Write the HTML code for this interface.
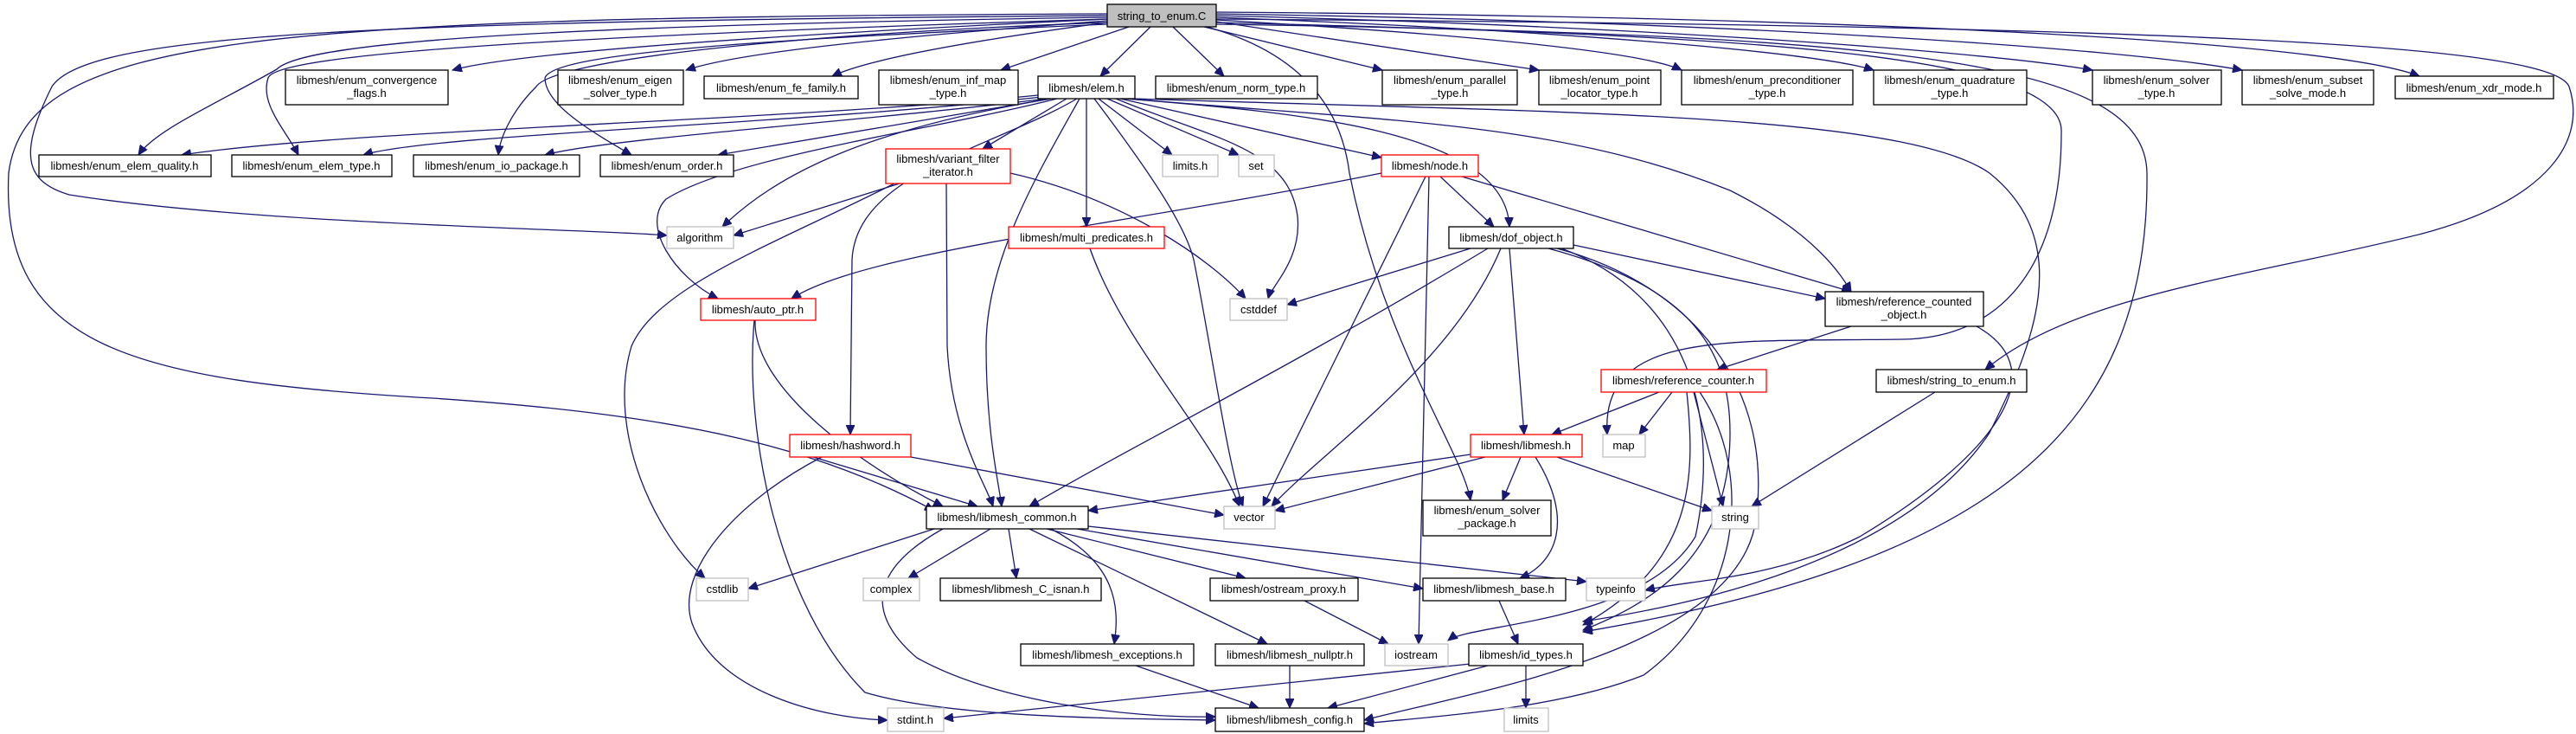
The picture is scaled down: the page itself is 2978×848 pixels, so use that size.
<!DOCTYPE html>
<html><head><meta charset="utf-8"><style>
html,body{margin:0;padding:0;background:#fff;}
svg{display:block;}
text{font-family:"Liberation Sans",Arial,sans-serif;font-size:13px;fill:#000;text-anchor:middle;}
.e{fill:none;stroke:#191970;stroke-width:1.3;marker-end:url(#a);}
.b{fill:#fff;stroke:#000;stroke-width:1.3;}
.g{fill:#fff;stroke:#bfbfbf;stroke-width:1.3;}
.r{fill:#fff;stroke:#ff0000;stroke-width:1.3;}
</style></head><body>
<svg width="2978" height="848" viewBox="0 0 2978 848" xmlns="http://www.w3.org/2000/svg">
<defs><marker id="a" markerUnits="userSpaceOnUse" markerWidth="12" markerHeight="10" refX="11" refY="5" orient="auto"><path d="M0,0 L11,5 L0,10 z" fill="#191970" stroke="#191970"/></marker></defs>
<g>
<!-- from string_to_enum.C -->
<path class="e" d="M1280,22 C900,40 600,60 523,81"/>
<path class="e" d="M1280,24 C1000,45 850,62 793,81"/>
<path class="e" d="M1280,26 C1100,50 1000,70 962,88"/>
<path class="e" d="M1305,31 L1157,81"/>
<path class="e" d="M1330,31 L1272,88"/>
<path class="e" d="M1356,31 L1415,88"/>
<path class="e" d="M1392,31 L1598,81"/>
<path class="e" d="M1406,25 L1779,81"/>
<path class="e" d="M1406,23 C1700,40 1900,60 1944,81"/>
<path class="e" d="M1406,20 C1800,35 2100,60 2166,81"/>
<path class="e" d="M1406,18 C1900,30 2300,60 2419,81"/>
<path class="e" d="M1406,16 C2000,25 2450,55 2592,81"/>
<path class="e" d="M1406,14 C2200,20 2700,50 2797,88"/>
<path class="e" d="M1280,20 C600,30 350,50 320,80 C250,120 180,150 160,179"/>
<path class="e" d="M1280,22 C700,40 320,60 310,90 C300,120 330,150 345,179"/>
<path class="e" d="M1280,26 C900,40 640,70 620,100 C590,130 578,160 576,179"/>
<path class="e" d="M1280,28 C900,45 640,60 630,90 C630,120 680,150 730,179"/>
<path class="e" d="M1280,18 C400,25 100,40 60,100 C20,180 30,210 80,225 C300,260 700,265 771,272"/>
<path class="e" d="M1280,16 C300,20 30,40 10,200 C0,400 150,440 500,460 C800,480 950,520 1080,590"/>
<path class="e" d="M1395,31 C1500,60 1550,120 1560,200 C1600,400 1690,520 1700,578"/>
<path class="e" d="M1406,26 C2000,40 2380,60 2383,150 C2384,300 2320,390 2200,392 C2000,395 1850,380 1858,502"/>
<path class="e" d="M1406,22 C2500,30 2950,50 2970,100 C2990,160 2950,230 2800,270 C2600,320 2400,340 2295,427"/>
<path class="e" d="M1406,28 C2200,40 2480,70 2482,200 C2485,500 2300,650 1830,730"/>
<!-- from elem.h -->
<path class="e" d="M1200,110 C900,140 400,150 210,179"/>
<path class="e" d="M1205,112 C900,145 500,155 420,179"/>
<path class="e" d="M1210,114 C1000,140 700,160 630,179"/>
<path class="e" d="M1215,114 L830,179"/>
<path class="e" d="M1233,114 L1136,172"/>
<path class="e" d="M1215,114 C1000,150 900,200 835,262"/>
<path class="e" d="M1222,114 C1080,150 850,180 770,230 C740,260 780,320 830,345"/>
<path class="e" d="M1245,114 C1150,170 990,200 985,300 L983,502"/>
<path class="e" d="M1248,114 C1200,200 1140,300 1140,400 C1140,500 1155,560 1158,585"/>
<path class="e" d="M1256,114 L1256,262"/>
<path class="e" d="M1290,114 C1400,160 1490,170 1500,250 C1505,300 1470,330 1466,345"/>
<path class="e" d="M1265,114 C1330,200 1370,260 1380,300 C1400,400 1420,540 1437,585"/>
<path class="e" d="M1270,114 L1355,179"/>
<path class="e" d="M1280,114 L1432,179"/>
<path class="e" d="M1295,114 L1597,182"/>
<path class="e" d="M1300,114 C1500,130 1740,150 1745,262"/>
<path class="e" d="M1305,114 C1600,140 1800,140 2000,220 C2100,270 2130,320 2140,337"/>
<path class="e" d="M1310,114 C1800,130 2200,130 2300,200 C2400,280 2350,400 2300,500 C2200,650 1950,700 1830,718"/>
<!-- variant_filter -->
<path class="e" d="M1040,212 L848,272"/>
<path class="e" d="M1094,212 L1095,400 C1100,500 1140,560 1148,585"/>
<path class="e" d="M1034,212 C900,280 760,330 730,400 C700,500 760,620 815,668"/>
<path class="e" d="M1168,200 C1300,230 1400,300 1440,345"/>
<!-- node.h -->
<path class="e" d="M1597,200 C1300,260 1000,290 915,345"/>
<path class="e" d="M1665,204 L1727,262"/>
<path class="e" d="M1690,204 L2140,337"/>
<path class="e" d="M1648,204 L1460,585"/>
<path class="e" d="M1652,204 L1640,744"/>
<!-- dof_object -->
<path class="e" d="M1700,287 L1488,352"/>
<path class="e" d="M1720,287 C1500,420 1300,520 1190,585"/>
<path class="e" d="M1735,287 C1680,420 1530,520 1470,585"/>
<path class="e" d="M1745,287 L1762,502"/>
<path class="e" d="M1819,283 L2110,345"/>
<path class="e" d="M1790,287 C1950,330 2000,400 2000,500 C2000,650 1900,700 1830,728"/>
<path class="e" d="M1800,287 C1960,330 2050,450 2030,600 C2010,750 1700,800 1577,832"/>
<path class="e" d="M1805,287 C1950,340 1990,480 1960,620 C1900,720 1700,720 1674,740"/>
<!-- multi_predicates -->
<path class="e" d="M1260,287 C1300,400 1400,500 1433,585"/>
<!-- auto_ptr -->
<path class="e" d="M873,370 C870,450 1000,540 1090,585"/>
<path class="e" d="M872,370 C860,500 900,700 1000,800 C1100,830 1300,830 1405,832"/>
<!-- hashword -->
<path class="e" d="M940,528 L1130,585"/>
<path class="e" d="M1053,528 L1415,595"/>
<path class="e" d="M950,528 C850,580 780,660 800,720 C830,800 950,830 1026,832"/>
<!-- libmesh_common -->
<path class="e" d="M1080,611 L865,680"/>
<path class="e" d="M1145,611 L1050,668"/>
<path class="e" d="M1166,611 L1175,668"/>
<path class="e" d="M1210,611 L1440,668"/>
<path class="e" d="M1245,611 L1645,680"/>
<path class="e" d="M1258,608 L1834,672"/>
<path class="e" d="M1215,611 C1290,650 1295,700 1288,744"/>
<path class="e" d="M1190,611 L1465,744"/>
<path class="e" d="M1090,611 C1020,650 990,700 1060,760 C1150,810 1300,830 1405,828"/>
<!-- misc -->
<path class="e" d="M1508,694 L1605,744"/>
<path class="e" d="M1733,694 L1755,744"/>
<path class="e" d="M1313,769 L1455,818"/>
<path class="e" d="M1491,769 L1491,818"/>
<path class="e" d="M1700,767 L1091,830"/>
<path class="e" d="M1720,769 L1535,818"/>
<path class="e" d="M1764,769 L1764,818"/>
<path class="e" d="M1700,525 L1258,590"/>
<path class="e" d="M1717,528 L1474,590"/>
<path class="e" d="M1758,528 L1737,578"/>
<path class="e" d="M1800,528 L1979,590"/>
<path class="e" d="M1775,528 C1820,600 1800,650 1757,668"/>
<path class="e" d="M1918,453 L1794,502"/>
<path class="e" d="M1933,453 L1895,502"/>
<path class="e" d="M1958,453 L1992,585"/>
<path class="e" d="M1950,453 C1960,550 1960,650 1830,722"/>
<path class="e" d="M1965,453 C2030,550 2010,700 1900,780 C1800,820 1650,828 1577,836"/>
<path class="e" d="M2140,377 L1985,427"/>
<path class="e" d="M2285,377 C2380,430 2300,530 2150,620 C2050,670 1950,670 1902,682"/>
<path class="e" d="M2237,453 L2025,585"/>
</g>
<g>
<rect x="1280" y="5" width="126" height="26" fill="#bfbfbf" stroke="#000" stroke-width="1.3"/><text x="1343" y="23">string_to_enum.C</text>
<rect class="b" x="330" y="81" width="188" height="40"/><text x="424" y="97">libmesh/enum_convergence</text><text x="424" y="112">_flags.h</text>
<rect class="b" x="645" y="81" width="145" height="40"/><text x="717" y="97">libmesh/enum_eigen</text><text x="717" y="112">_solver_type.h</text>
<rect class="b" x="814" y="88" width="178" height="26"/><text x="903" y="106">libmesh/enum_fe_family.h</text>
<rect class="b" x="1016" y="81" width="161" height="40"/><text x="1096" y="97">libmesh/enum_inf_map</text><text x="1096" y="112">_type.h</text>
<rect class="b" x="1200" y="88" width="112" height="26"/><text x="1256" y="106">libmesh/elem.h</text>
<rect class="b" x="1336" y="88" width="187" height="26"/><text x="1429" y="106">libmesh/enum_norm_type.h</text>
<rect class="b" x="1598" y="81" width="156" height="40"/><text x="1676" y="97">libmesh/enum_parallel</text><text x="1676" y="112">_type.h</text>
<rect class="b" x="1779" y="81" width="141" height="40"/><text x="1849" y="97">libmesh/enum_point</text><text x="1849" y="112">_locator_type.h</text>
<rect class="b" x="1944" y="81" width="198" height="40"/><text x="2043" y="97">libmesh/enum_preconditioner</text><text x="2043" y="112">_type.h</text>
<rect class="b" x="2166" y="81" width="177" height="40"/><text x="2254" y="97">libmesh/enum_quadrature</text><text x="2254" y="112">_type.h</text>
<rect class="b" x="2419" y="81" width="149" height="40"/><text x="2493" y="97">libmesh/enum_solver</text><text x="2493" y="112">_type.h</text>
<rect class="b" x="2592" y="81" width="152" height="40"/><text x="2668" y="97">libmesh/enum_subset</text><text x="2668" y="112">_solve_mode.h</text>
<rect class="b" x="2769" y="88" width="183" height="26"/><text x="2860" y="106">libmesh/enum_xdr_mode.h</text>
<rect class="b" x="45" y="179" width="199" height="25"/><text x="144" y="196">libmesh/enum_elem_quality.h</text>
<rect class="b" x="268" y="179" width="185" height="25"/><text x="360" y="196">libmesh/enum_elem_type.h</text>
<rect class="b" x="478" y="179" width="192" height="25"/><text x="574" y="196">libmesh/enum_io_package.h</text>
<rect class="b" x="694" y="179" width="154" height="25"/><text x="771" y="196">libmesh/enum_order.h</text>
<rect class="r" x="1024" y="172" width="144" height="40"/><text x="1096" y="188">libmesh/variant_filter</text><text x="1096" y="203">_iterator.h</text>
<rect class="g" x="1344" y="179" width="64" height="25"/><text x="1376" y="196">limits.h</text>
<rect class="g" x="1432" y="179" width="41" height="25"/><text x="1452" y="196">set</text>
<rect class="r" x="1597" y="179" width="112" height="25"/><text x="1653" y="196">libmesh/node.h</text>
<rect class="g" x="771" y="262" width="77" height="25"/><text x="809" y="279">algorithm</text>
<rect class="r" x="1166" y="262" width="180" height="25"/><text x="1256" y="279">libmesh/multi_predicates.h</text>
<rect class="b" x="1675" y="262" width="144" height="25"/><text x="1747" y="279">libmesh/dof_object.h</text>
<rect class="r" x="810" y="345" width="133" height="25"/><text x="876" y="362">libmesh/auto_ptr.h</text>
<rect class="g" x="1422" y="345" width="66" height="25"/><text x="1455" y="362">cstddef</text>
<rect class="b" x="2110" y="337" width="183" height="40"/><text x="2201" y="353">libmesh/reference_counted</text><text x="2201" y="368">_object.h</text>
<rect class="r" x="1851" y="427" width="191" height="26"/><text x="1946" y="444">libmesh/reference_counter.h</text>
<rect class="b" x="2169" y="427" width="174" height="26"/><text x="2256" y="444">libmesh/string_to_enum.h</text>
<rect class="r" x="913" y="502" width="140" height="26"/><text x="983" y="519">libmesh/hashword.h</text>
<rect class="r" x="1700" y="502" width="129" height="26"/><text x="1764" y="519">libmesh/libmesh.h</text>
<rect class="g" x="1853" y="502" width="49" height="26"/><text x="1877" y="519">map</text>
<rect class="b" x="1071" y="585" width="187" height="26"/><text x="1164" y="602">libmesh/libmesh_common.h</text>
<rect class="g" x="1415" y="585" width="59" height="26"/><text x="1444" y="602">vector</text>
<rect class="b" x="1645" y="578" width="148" height="41"/><text x="1719" y="594">libmesh/enum_solver</text><text x="1719" y="609">_package.h</text>
<rect class="g" x="1979" y="585" width="54" height="26"/><text x="2006" y="602">string</text>
<rect class="g" x="805" y="668" width="60" height="26"/><text x="835" y="685">cstdlib</text>
<rect class="g" x="998" y="668" width="65" height="26"/><text x="1030" y="685">complex</text>
<rect class="b" x="1087" y="668" width="186" height="26"/><text x="1180" y="685">libmesh/libmesh_C_isnan.h</text>
<rect class="b" x="1399" y="668" width="171" height="26"/><text x="1484" y="685">libmesh/ostream_proxy.h</text>
<rect class="b" x="1645" y="668" width="165" height="26"/><text x="1727" y="685">libmesh/libmesh_base.h</text>
<rect class="g" x="1834" y="668" width="68" height="26"/><text x="1868" y="685">typeinfo</text>
<rect class="b" x="1180" y="744" width="200" height="25"/><text x="1280" y="761">libmesh/libmesh_exceptions.h</text>
<rect class="b" x="1405" y="744" width="172" height="25"/><text x="1491" y="761">libmesh/libmesh_nullptr.h</text>
<rect class="g" x="1601" y="744" width="73" height="25"/><text x="1637" y="761">iostream</text>
<rect class="b" x="1698" y="744" width="132" height="25"/><text x="1764" y="761">libmesh/id_types.h</text>
<rect class="g" x="1026" y="818" width="65" height="27"/><text x="1058" y="836">stdint.h</text>
<rect class="b" x="1405" y="818" width="172" height="27"/><text x="1491" y="836">libmesh/libmesh_config.h</text>
<rect class="g" x="1739" y="818" width="51" height="27"/><text x="1764" y="836">limits</text>
</g>
</svg>
</body></html>
